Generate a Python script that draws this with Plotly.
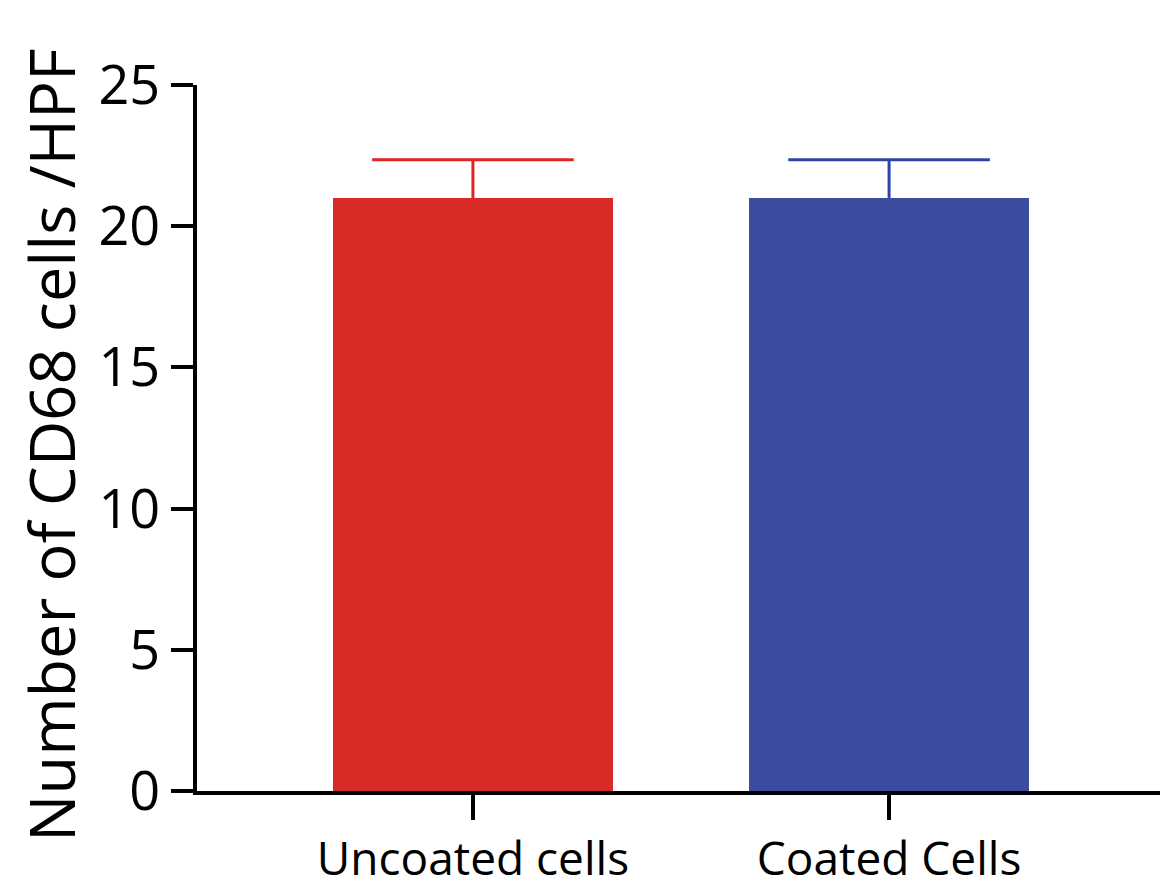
import plotly.graph_objects as go

categories = ["Uncoated cells", "Coated Cells"]
values = [21.0, 21.0]
errors = [1.35, 1.35]
bar_colors = ["#D82A27", "#3A4BA0"]
err_colors = ["#E32222", "#2F42AA"]
y_ticks = [0, 5, 10, 15, 20, 25]
y_title = "Number of CD68 cells /HPF"

fig = go.Figure()
for i, c in enumerate(categories):
    fig.add_trace(go.Bar(
        x=[c], y=[values[i]], width=0.673,
        marker=dict(color=bar_colors[i], line=dict(width=0)),
        showlegend=False,
    ))
for i, c in enumerate(categories):
    top = values[i] + errors[i]
    fig.add_trace(go.Scatter(
        x=[c, c], y=[values[i], top], mode="lines",
        line=dict(color=err_colors[i], width=3), showlegend=False,
    ))
    fig.add_trace(go.Scatter(
        x=[c], y=[top], mode="markers",
        marker=dict(symbol="line-ew-open", size=144, color=err_colors[i],
                    line=dict(color=err_colors[i], width=3)),
        showlegend=False,
    ))

fig.update_layout(
    width=1160, height=880,
    margin=dict(l=189, r=3, t=77, b=97, autoexpand=False),
    paper_bgcolor="white", plot_bgcolor="white",
    font=dict(family="Open Sans, Noto Sans, sans-serif", color="black"),
    bargap=0,
)
fig.update_xaxes(
    range=[-0.663, 1.663], showline=True, linecolor="black", linewidth=4,
    ticks="outside", ticklen=25, tickwidth=4, tickcolor="black",
    tickfont=dict(size=46), showgrid=False, zeroline=False, automargin=False,
)
fig.update_yaxes(
    range=[0, 25], tickvals=y_ticks, showline=True, linecolor="black", linewidth=4,
    ticks="outside", ticklen=22, tickwidth=4, tickcolor="black",
    tickfont=dict(size=54), showgrid=False, zeroline=False, automargin=False,
)
fig.add_annotation(
    text=y_title, xref="paper", yref="paper", x=-0.152, y=0.49,
    xanchor="center", yanchor="middle", textangle=-90, showarrow=False,
    font=dict(size=63, color="black"),
)
fig.write_html("out.html")
